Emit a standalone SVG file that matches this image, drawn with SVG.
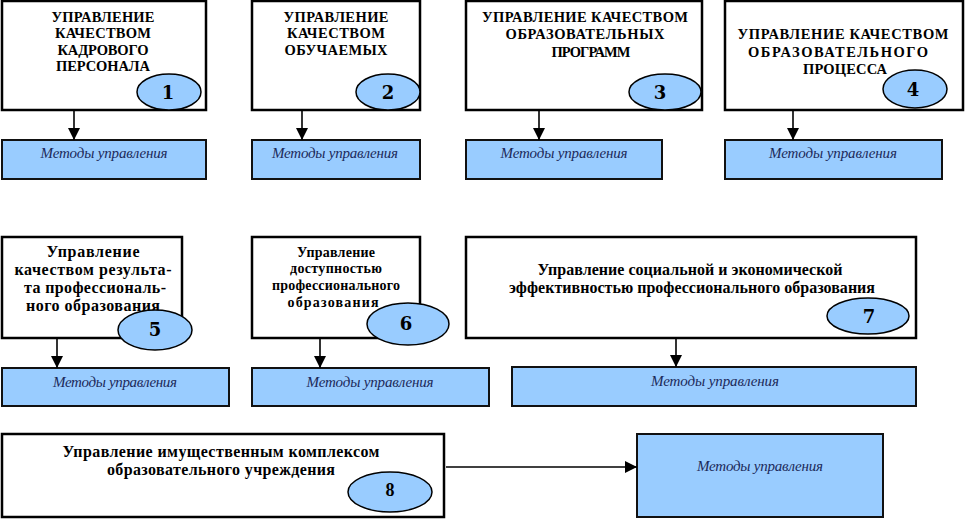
<svg xmlns="http://www.w3.org/2000/svg" width="965" height="519" viewBox="0 0 965 519">
<style>
.box{fill:#fff;stroke:#000;stroke-width:2.5}
.meth{fill:#99ccff;stroke:#111;stroke-width:2}
.oval{fill:#99ccff;stroke:#000;stroke-width:1.5}
.hd{font-weight:bold;font-size:14.5px;text-anchor:middle;fill:#000}
.lc{font-weight:bold;text-anchor:middle;fill:#000}
.mt{font-style:italic;font-size:15px;text-anchor:middle;fill:#1c2a5a}
.num{font-weight:bold;font-size:18px;text-anchor:middle;fill:#000}
.con{stroke:#000;stroke-width:1.6;fill:none;marker-end:url(#ah)}
</style>
<defs>
<marker id="ah" markerUnits="userSpaceOnUse" markerWidth="12" markerHeight="12" refX="12" refY="6" orient="auto">
<path d="M0,0 L12,6 L0,12 z" fill="#000"/>
</marker>
</defs>
<rect width="965" height="519" fill="#fff"/>
<g font-family="Liberation Serif">

<g id="node1">
<rect class="box" x="2" y="1" width="204" height="109"/>
<text class="hd" x="103" y="22" textLength="103" lengthAdjust="spacing">УПРАВЛЕНИЕ</text>
<text class="hd" x="103" y="38" textLength="96" lengthAdjust="spacing">КАЧЕСТВОМ</text>
<text class="hd" x="103" y="55" textLength="91" lengthAdjust="spacing">КАДРОВОГО</text>
<text class="hd" x="103" y="71" textLength="94" lengthAdjust="spacing">ПЕРСОНАЛА</text>
<ellipse class="oval" cx="169" cy="92" rx="32" ry="18"/>
<text class="num" font-family="DejaVu Serif" x="168" y="99">1</text>
</g>
<g id="methods1">
<rect class="meth" x="2" y="140" width="204" height="39"/>
<text class="mt" x="104" y="158" textLength="127" lengthAdjust="spacing">Методы управления</text>
</g>

<g id="node2">
<rect class="box" x="252" y="1" width="168" height="109"/>
<text class="hd" x="336" y="22" textLength="105" lengthAdjust="spacing">УПРАВЛЕНИЕ</text>
<text class="hd" x="336" y="38" textLength="98" lengthAdjust="spacing">КАЧЕСТВОМ</text>
<text class="hd" x="336" y="55" textLength="103" lengthAdjust="spacing">ОБУЧАЕМЫХ</text>
<ellipse class="oval" cx="388" cy="92" rx="32" ry="18"/>
<text class="num" font-family="DejaVu Serif" x="388" y="99">2</text>
</g>
<g id="methods2">
<rect class="meth" x="252" y="140" width="168" height="39"/>
<text class="mt" x="335" y="158" textLength="126" lengthAdjust="spacing">Методы управления</text>
</g>

<g id="node3">
<rect class="box" x="466" y="1" width="236" height="109"/>
<text class="hd" x="585" y="22" textLength="206" lengthAdjust="spacing">УПРАВЛЕНИЕ КАЧЕСТВОМ</text>
<text class="hd" x="585" y="39" textLength="159" lengthAdjust="spacing">ОБРАЗОВАТЕЛЬНЫХ</text>
<text class="hd" x="591" y="57" textLength="79" lengthAdjust="spacing">ПРОГРАММ</text>
<ellipse class="oval" cx="665" cy="92" rx="36" ry="18"/>
<text class="num" font-family="DejaVu Serif" x="660" y="99">3</text>
</g>
<g id="methods3">
<rect class="meth" x="466" y="140" width="196" height="39"/>
<text class="mt" x="564" y="158" textLength="127" lengthAdjust="spacing">Методы управления</text>
</g>

<g id="node4">
<rect class="box" x="725" y="1" width="238" height="109"/>
<text class="hd" x="843" y="39" textLength="211" lengthAdjust="spacing">УПРАВЛЕНИЕ КАЧЕСТВОМ</text>
<text class="hd" x="838" y="57" textLength="180" lengthAdjust="spacing">ОБРАЗОВАТЕЛЬНОГО</text>
<text class="hd" x="845" y="74" textLength="84" lengthAdjust="spacing">ПРОЦЕССА</text>
<ellipse class="oval" cx="915" cy="89" rx="32" ry="19"/>
<text class="num" font-family="DejaVu Serif" x="913" y="96">4</text>
</g>
<g id="methods4">
<rect class="meth" x="725" y="140" width="217" height="39"/>
<text class="mt" x="833" y="158" textLength="128" lengthAdjust="spacing">Методы управления</text>
</g>

<g id="node5">
<rect class="box" x="2" y="237" width="180" height="101"/>
<text class="lc" font-size="16" x="93" y="257" textLength="93" lengthAdjust="spacing">Управление</text>
<text class="lc" font-size="16" x="93" y="275" textLength="157" lengthAdjust="spacing">качеством результа-</text>
<text class="lc" font-size="16" x="95" y="293" textLength="142" lengthAdjust="spacing">та профессиональ-</text>
<text class="lc" font-size="16" x="93" y="311" textLength="134" lengthAdjust="spacing">ного образования</text>
<ellipse class="oval" cx="155" cy="330" rx="37" ry="20"/>
<text class="num" font-family="DejaVu Serif" x="155" y="336">5</text>
</g>
<g id="methods5">
<rect class="meth" x="2" y="368" width="227" height="38"/>
<text class="mt" x="115" y="387" textLength="124" lengthAdjust="spacing">Методы управления</text>
</g>

<g id="node6">
<rect class="box" x="252" y="237" width="168" height="101"/>
<text class="lc" font-size="14" x="336" y="257" textLength="78" lengthAdjust="spacing">Управление</text>
<text class="lc" font-size="14" x="336" y="273" textLength="92" lengthAdjust="spacing">доступностью</text>
<text class="lc" font-size="14" x="336" y="290" textLength="128" lengthAdjust="spacing">профессионального</text>
<text class="lc" font-size="14" x="333" y="307" textLength="91" lengthAdjust="spacing">образования</text>
<ellipse class="oval" cx="408" cy="324" rx="41" ry="21"/>
<text class="num" font-family="DejaVu Serif" x="406" y="330">6</text>
</g>
<g id="methods6">
<rect class="meth" x="252" y="368" width="237" height="38"/>
<text class="mt" x="370" y="387" textLength="127" lengthAdjust="spacing">Методы управления</text>
</g>

<g id="node7">
<rect class="box" x="466" y="237" width="450" height="101"/>
<text class="lc" font-size="16" x="690" y="275" textLength="305" lengthAdjust="spacing">Управление социальной и экономической</text>
<text class="lc" font-size="16" x="692" y="293" textLength="366" lengthAdjust="spacing">эффективностью профессионального образования</text>
<ellipse class="oval" cx="868" cy="316" rx="41" ry="18"/>
<text class="num" font-family="DejaVu Serif" x="869" y="323">7</text>
</g>
<g id="methods7">
<rect class="meth" x="512" y="367" width="404" height="39"/>
<text class="mt" x="715" y="386" textLength="128" lengthAdjust="spacing">Методы управления</text>
</g>

<g id="node8">
<rect class="box" x="2" y="434" width="442" height="83"/>
<text class="lc" font-size="16" x="221" y="457" textLength="317" lengthAdjust="spacing">Управление имущественным комплексом</text>
<text class="lc" font-size="16" x="221" y="475" textLength="228" lengthAdjust="spacing">образовательного учреждения</text>
<ellipse class="oval" cx="390" cy="492" rx="42" ry="20"/>
<text class="lc" font-size="18" x="390" y="496">8</text>
</g>
<g id="methods8">
<rect class="meth" x="637" y="434" width="246" height="83"/>
<text class="mt" x="760" y="471" textLength="126" lengthAdjust="spacing">Методы управления</text>
</g>

</g>
<g id="connectors">
<line class="con" x1="74" y1="111" x2="74" y2="140"/>
<line class="con" x1="302" y1="111" x2="302" y2="140"/>
<line class="con" x1="539" y1="111" x2="539" y2="140"/>
<line class="con" x1="793" y1="111" x2="793" y2="140"/>
<line class="con" x1="57" y1="339" x2="57" y2="368"/>
<line class="con" x1="320" y1="339" x2="320" y2="368"/>
<line class="con" x1="676" y1="339" x2="676" y2="367"/>
<line class="con" x1="446" y1="467" x2="637" y2="467"/>
</g>
</svg>
